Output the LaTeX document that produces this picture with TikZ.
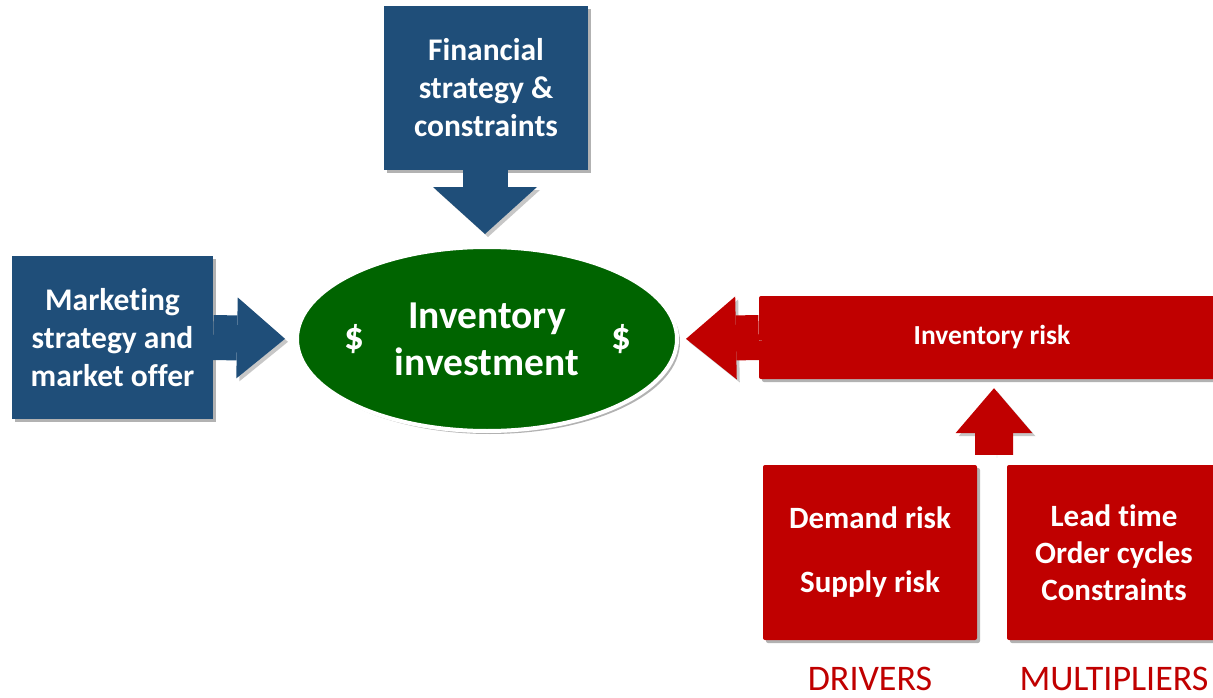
\documentclass[tikz,border=0pt]{standalone}
\usepackage{fontspec}
\setmainfont{Carlito}[Ligatures=NoCommon]
\usetikzlibrary{arrows.meta,shapes.geometric,shadows,calc}

\definecolor{stratblue}{RGB}{31,78,121}
\definecolor{riskred}{RGB}{192,0,0}
\definecolor{investgreen}{RGB}{0,100,0}

\tikzset{
	softshadow/.style={drop shadow={shadow xshift=3pt,shadow yshift=-3pt,opacity=0.3,fill=black}},
	stratbox/.style={fill=stratblue, text=white, align=center, inner sep=0pt,
		font=\bfseries\fontsize{31.5}{38}\selectfont, softshadow},
	riskbox/.style={fill=riskred, text=white, align=center, inner sep=0pt, rounded corners=2pt,
		font=\bfseries\fontsize{31}{37}\selectfont, softshadow},
	risklabel/.style={text=riskred, anchor=base, inner sep=0pt, font=\fontsize{36}{43}\selectfont},
	blockarrow/.style n args={4}{draw=#1, line width=#2,
		-{Triangle[width=#3,length=#4,line width=0pt]},
		preaction={draw=black!22, transform canvas={shift={(3pt,-3pt)}}}},
}

\begin{document}
\begin{tikzpicture}[x=1pt,y=-1pt]
	\useasboundingbox (0,0) rectangle (1213,698);
	
	% Strategy boxes
	\node[stratbox, minimum width=204, minimum height=164] (fin) at (486,88)
		{Financial\\strategy \&\\constraints};
	\node[stratbox, minimum width=201, minimum height=163] (mkt) at (112.5,337.5)
		{Marketing\\strategy and\\market offer};
	
	% Inventory investment
	\node[ellipse, fill=investgreen, draw=white, line width=4pt, minimum width=380,
		minimum height=184, softshadow] (inv) at (487,339) {};
	\node[text=white, align=center, font=\bfseries\fontsize{39.5}{47}\selectfont] (invtxt)
		at (inv.center) {Inventory\\investment};
	\node[text=white, font=\bfseries\fontsize{39}{47}\selectfont] (dolleft)
		at ([xshift=-133pt]inv.center) {\$};
	\node[text=white, font=\bfseries\fontsize{39}{47}\selectfont] (dolright)
		at ([xshift=134pt]inv.center) {\$};
	
	% Inventory risk bar
	\node[riskbox, minimum width=466, minimum height=83,
		font=\bfseries\fontsize{27.5}{33}\selectfont] (risk) at (992,337.5) {Inventory risk};
	
	% Drivers and multipliers
	\node[riskbox, minimum width=214, minimum height=175] (dem) at (870,552.5)
		{Demand risk\\[27pt]Supply risk};
	\node[riskbox, minimum width=214, minimum height=175] (mult) at (1114,552.5)
		{Lead time\\Order cycles\\Constraints};
	\node[risklabel] (drv) at (870,690) {DRIVERS};
	\node[risklabel] (mul) at (1114,690) {MULTIPLIERS};
	
	% Block arrows
	\draw[blockarrow={stratblue}{45pt}{104pt}{47pt}, shorten >=11pt]
		([xshift=-1pt]fin.south) -- ([xshift=-2pt]inv.north);
	\draw[blockarrow={stratblue}{45pt}{81pt}{48pt}, shorten >=10pt] (mkt.east) -- (inv.west);
	\draw[blockarrow={riskred}{45pt}{83pt}{50pt}, shorten >=7pt] (risk.west) -- (inv.east);
	\coordinate (gap) at ($(dem.north east)!0.5!(mult.north west)$);
	\draw[blockarrow={riskred}{38pt}{77pt}{45pt}, shorten <=10pt, shorten >=9pt]
		([xshift=2pt]gap) -- ([xshift=2pt]risk.south);
	
\end{tikzpicture}
\end{document}
